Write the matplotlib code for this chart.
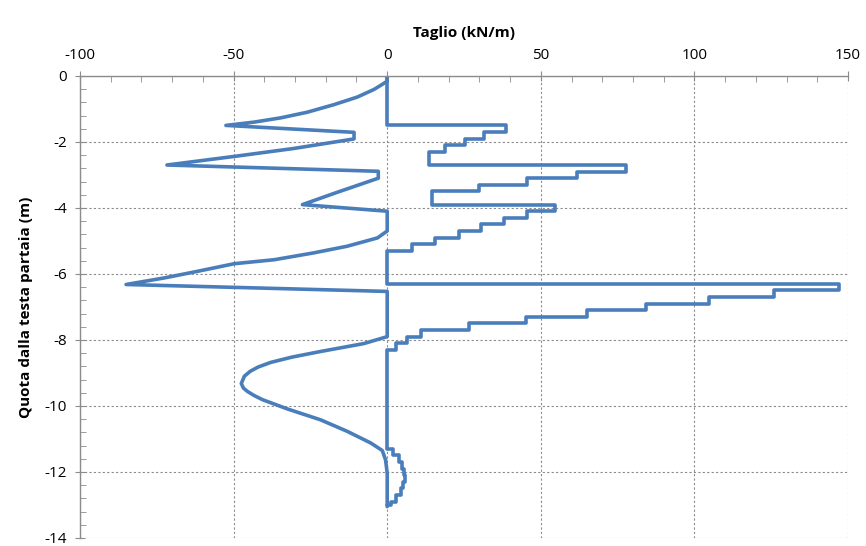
import numpy as np
import matplotlib.pyplot as plt
from matplotlib.ticker import MultipleLocator

# envelope negativo (kN/m) vs quota (m)
neg_x = [0, 0, -2.0, -4.3, -9.7, -17.3, -26, -34.6, -43.3, -52.5, -10.8, -10.8, -30.5, -49.8, -71.7,
         -2.9, -2.9, -17.0, -27.6, 0, 0, -3.2, -13, -23.8, -36.8, -49.8, -61.7, -72.5, -85,
         0, 0, -7.6, -21.7, -31.0, -37.9, -42.0, -44.6, -46.5, -47.5, -46.8, -45.5, -43.4, -40.6,
         -32.5, -21.7, -13, -5.4, -1.6, -0.55, 0, 0]
neg_y = [0, -0.16, -0.28, -0.41, -0.64, -0.87, -1.1, -1.27, -1.4, -1.5, -1.71, -1.91, -2.2, -2.44, -2.7,
         -2.89, -3.1, -3.55, -3.9, -4.1, -4.7, -4.91, -5.16, -5.36, -5.57, -5.69, -5.92, -6.12, -6.32,
         -6.53, -7.9, -8.11, -8.35, -8.52, -8.68, -8.82, -8.95, -9.1, -9.32, -9.46, -9.56, -9.68, -9.81,
         -10.09, -10.42, -10.77, -11.12, -11.35, -11.63, -12.03, -13.05]

# envelope positivo a gradini: valore costante tra quota_top e quota successiva
step_top = [0, -1.5, -1.7, -1.9, -2.1, -2.3, -2.7, -2.9, -3.1, -3.3, -3.5, -3.9, -4.1, -4.3,
            -4.5, -4.7, -4.9, -5.1, -5.3, -6.3, -6.5, -6.7, -6.9, -7.1, -7.3, -7.5, -7.7,
            -7.9, -8.1, -8.3, -11.3, -11.5, -11.7, -11.9, -12.1, -12.3, -12.5, -12.7, -12.9]
step_val = [0, 38.7, 31.6, 25.2, 18.9, 13.5, 77.6, 61.7, 45.5, 30.0, 14.6, 54.6, 45.5, 37.9,
            30.4, 23.3, 15.7, 8.1, 0, 147.2, 125.9, 104.8, 84.4, 64.9, 45.2, 26.5, 11.1,
            6.5, 3.0, 0, 1.9, 3.8, 4.9, 5.6, 5.7, 5.3, 4.4, 2.8, 1.2]
step_end = -13.0

# costruzione del percorso a gradini
bounds = step_top + [step_end]
pos_x, pos_y = [], []
for i, v in enumerate(step_val):
    pos_x += [v, v]
    pos_y += [bounds[i], bounds[i + 1]]
pos_x.append(0)
pos_y.append(step_end)

plt.rcParams['font.family'] = ['Open Sans', 'DejaVu Sans']
plt.rcParams['axes.unicode_minus'] = False
blue = '#4a7ebb'
grid_c = '#8c8c8c'

fig = plt.figure(figsize=(8.66, 5.46), dpi=100)
ax = fig.add_axes([0.0924, 0.0147, 0.8868, 0.8463])

ax.plot(neg_x, neg_y, color=blue, lw=2.6, solid_joinstyle='round', solid_capstyle='round')
ax.plot(pos_x, pos_y, color=blue, lw=2.6, solid_joinstyle='round', solid_capstyle='round')

ax.set_xlim(-100, 150)
ax.set_ylim(-14, 0)
ax.xaxis.set_major_locator(MultipleLocator(50))
ax.xaxis.set_minor_locator(MultipleLocator(10))
ax.yaxis.set_major_locator(MultipleLocator(2))
ax.yaxis.set_minor_locator(MultipleLocator(0.4))
ax.xaxis.tick_top()
ax.xaxis.set_label_position('top')

ax.grid(True, which='major', color=grid_c, lw=0.8, linestyle=(0, (2, 2)))
ax.set_axisbelow(True)

for s in ['right', 'bottom']:
    ax.spines[s].set_visible(False)
for s in ['top', 'left']:
    ax.spines[s].set_color('#8c8c8c')
    ax.spines[s].set_linewidth(1.0)

ax.tick_params(which='major', direction='inout', length=7, color='#8c8c8c',
               labelsize=11, pad=6)
ax.tick_params(which='minor', direction='in', length=4, color='#8c8c8c')
ax.tick_params(axis='x', which='both', top=True, bottom=False)
ax.tick_params(axis='y', which='both', left=True, right=False)

ax.set_xlabel('Taglio (kN/m)', fontsize=11, fontweight='bold', labelpad=8)
ax.set_ylabel('Quota dalla testa partaia (m)', fontsize=11, fontweight='bold', labelpad=8)

fig.savefig('out.png', dpi=100)
